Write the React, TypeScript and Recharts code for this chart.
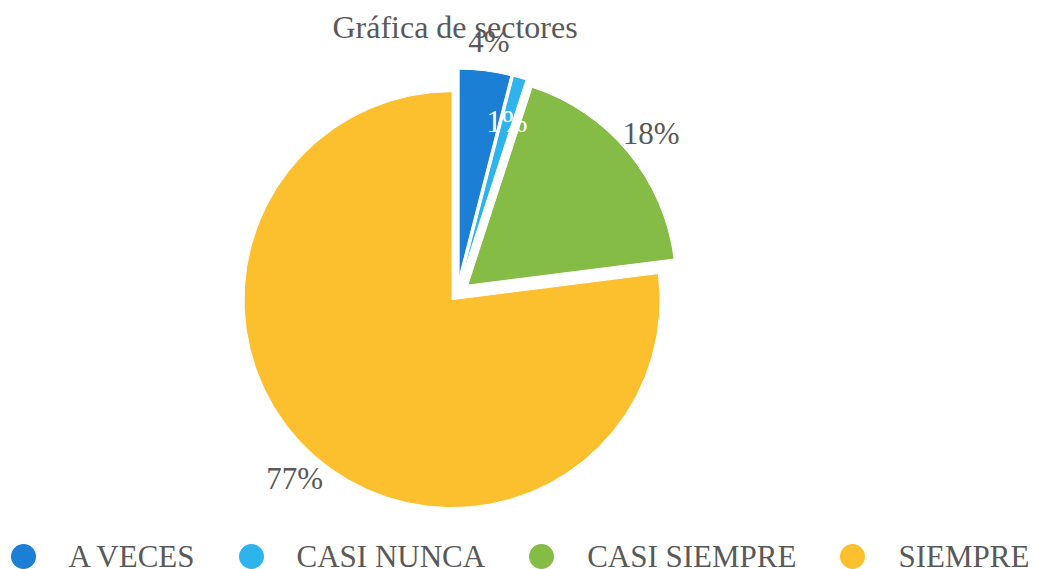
import React from 'react';
import { PieChart, Pie, Cell, Legend } from 'recharts';

// datos
const categories = ['A VECES', 'CASI NUNCA', 'CASI SIEMPRE', 'SIEMPRE'];
const percents = [4, 1, 18, 77];
const colors = ['#1b7fd5', '#2fb3ec', '#84bc45', '#fcc02e'];

// cuánto se separa cada sector del centro (px)
const explode = [17, 17, 14, 7.5];

const W = 1043;
const H = 569;
const BASE_X = 457;
const BASE_Y = 294;
const RADIUS = 208;
const RAD = Math.PI / 180;
const FONT = "'Liberation Serif', 'Times New Roman', serif";
const TEXT = '#595959';

const data = categories.map((name, i) => ({ name, value: percents[i] }));
const total = percents.reduce((a, b) => a + b, 0);

// ángulo medio de cada sector, en grados desde las 12 en sentido horario
const midAngles = percents.map((v, i) => {
  const before = percents.slice(0, i).reduce((a, b) => a + b, 0);
  return ((before + v / 2) / total) * 360;
});

const makeLabel = (own: number) => (props: any) => {
  const { cx, cy, midAngle, outerRadius, percent, index } = props;
  if (index !== own) return null;
  const inside = own === 1;
  const r = inside ? outerRadius * 0.78 : outerRadius + 30;
  const x = cx + r * Math.cos(-midAngle * RAD);
  const y = cy + r * Math.sin(-midAngle * RAD);
  return (
    <text
      x={x}
      y={y}
      fill={inside ? '#ffffff' : TEXT}
      textAnchor="middle"
      dominantBaseline="central"
      fontFamily={FONT}
      fontSize={31}
    >
      {Math.round(percent * 100)}%
    </text>
  );
};

const renderLegend = () => (
  <div style={{ display: 'flex', alignItems: 'center', paddingLeft: 10.5, height: 31 }}>
    {categories.map((name, i) => (
      <div key={name} style={{ display: 'flex', alignItems: 'center', marginRight: 44 }}>
        <span
          style={{
            display: 'inline-block',
            width: 25,
            height: 25,
            borderRadius: '50%',
            background: colors[i],
            marginRight: 33,
          }}
        />
        <span style={{ fontFamily: FONT, fontSize: 31, lineHeight: '31px', color: TEXT, whiteSpace: 'nowrap' }}>
          {name}
        </span>
      </div>
    ))}
  </div>
);

export default function App() {
  return (
    <div style={{ position: 'absolute', left: 0, top: 0, width: W, height: H, background: '#ffffff' }}>
      <div
        style={{
          position: 'absolute',
          left: 0,
          top: 11,
          width: 910,
          textAlign: 'center',
          fontFamily: FONT,
          fontSize: 32,
          lineHeight: '32px',
          color: TEXT,
          whiteSpace: 'nowrap',
        }}
      >
        Gráfica de sectores
      </div>
      <PieChart width={W} height={H} margin={{ top: 0, right: 0, bottom: 0, left: 0 }}>
        {categories.map((name, i) => {
          const d = explode[i];
          const cx = BASE_X + d * Math.sin(midAngles[i] * RAD);
          const cy = BASE_Y - d * Math.cos(midAngles[i] * RAD);
          return (
            <Pie
              key={name}
              data={data}
              dataKey="value"
              nameKey="name"
              cx={cx}
              cy={cy}
              outerRadius={RADIUS}
              startAngle={90}
              endAngle={-270}
              labelLine={false}
              label={makeLabel(i)}
              isAnimationActive={false}
              legendType={i === 0 ? 'circle' : 'none'}
            >
              {data.map((entry, j) => (
                <Cell
                  key={entry.name}
                  fill={j === i ? colors[j] : 'transparent'}
                  stroke={j === i ? '#ffffff' : 'none'}
                  strokeWidth={j === i ? 1 : 0}
                />
              ))}
            </Pie>
          );
        })}
        <Legend
          verticalAlign="bottom"
          content={renderLegend}
          wrapperStyle={{ position: 'absolute', left: 0, top: 541, width: W, height: 31 }}
        />
      </PieChart>
    </div>
  );
}
